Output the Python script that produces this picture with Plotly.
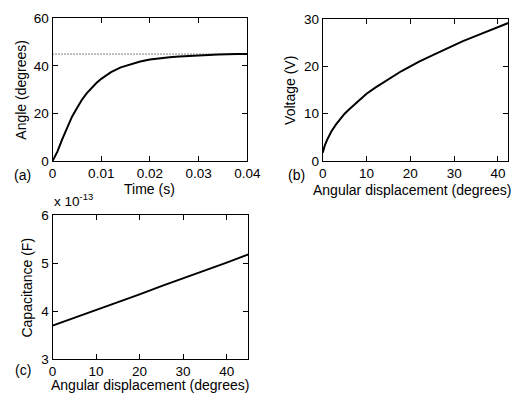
import plotly.graph_objects as go

# Panel (a): angle step response
time_s = [0, 0.001, 0.002, 0.003, 0.004, 0.005, 0.006, 0.007, 0.008, 0.009, 0.010,
          0.012, 0.014, 0.016, 0.018, 0.020, 0.022, 0.024, 0.026, 0.028, 0.030,
          0.032, 0.034, 0.036, 0.038, 0.040]
angle_deg = [0, 4, 9.3, 14, 18.7, 22.2, 25.7, 28.5, 30.8, 32.8, 34.6,
             37.4, 39.4, 40.8, 41.9, 42.7, 43.3, 43.7, 44.0, 44.3, 44.5,
             44.6, 44.8, 45, 45, 45]
target_angle = 45
time_range = [0, 0.04]
time_ticks = [0, 0.01, 0.02, 0.03, 0.04]
time_ticklabels = ["0", "0.01", "0.02", "0.03", "0.04"]

# Panel (b): voltage vs angular displacement
disp_b = [0, 0.25, 0.5, 1, 2, 3, 4, 5, 6, 8, 10, 12, 15, 18, 20, 22, 25, 28, 30,
          32, 35, 38, 40, 42, 45]
voltage = [1.8, 2.8, 3.4, 4.5, 6.3, 7.7, 8.9, 10.0, 10.9, 12.6, 14.2, 15.5, 17.3,
           19.0, 20.0, 21.0, 22.3, 23.6, 24.5, 25.3, 26.4, 27.5, 28.3, 29.0, 30.1]

# Panel (c): capacitance vs angular displacement (units of 1e-13 F)
disp_c = [0, 5, 10, 15, 20, 25, 30, 35, 40, 45]
capacitance = [3.70, 3.86, 4.02, 4.18, 4.35, 4.52, 4.68, 4.85, 5.01, 5.18]

disp_ticks = [0, 10, 20, 30, 40]

FONT = "Liberation Sans, Arial, sans-serif"
TICK_SIZE = 13.5
TITLE_SIZE = 14
TICKF = dict(family=FONT, size=TICK_SIZE, color="black")

# Figure sized to fit the 530x406 window inside the page's 8px body margin
W, H = 514, 390
OFF = 8


def px(x):
    return (x - OFF) / W


def py(y):
    return 1 - (y - OFF) / H


fig = go.Figure()
line = dict(color="black", width=2)
fig.add_trace(go.Scatter(x=time_s, y=angle_deg, mode="lines", line=line,
                         xaxis="x", yaxis="y", showlegend=False, hoverinfo="skip"))
fig.add_trace(go.Scatter(x=time_range, y=[target_angle, target_angle], mode="lines",
                         line=dict(color="black", width=1, dash="1px,2px"),
                         xaxis="x", yaxis="y", showlegend=False, hoverinfo="skip"))
fig.add_trace(go.Scatter(x=disp_b, y=voltage, mode="lines", line=line,
                         xaxis="x2", yaxis="y2", showlegend=False, hoverinfo="skip"))
fig.add_trace(go.Scatter(x=disp_c, y=capacitance, mode="lines", line=line,
                         xaxis="x3", yaxis="y3", showlegend=False, hoverinfo="skip"))

axbase = dict(showline=True, mirror="ticks", linecolor="black", linewidth=1,
              ticks="inside", ticklen=5, tickcolor="black", tickwidth=1,
              showgrid=False, zeroline=False, tickfont=TICKF)

fig.update_layout(
    width=W, height=H, margin=dict(l=0, r=0, t=0, b=0),
    paper_bgcolor="white", plot_bgcolor="white",
    font=dict(family=FONT, size=TICK_SIZE, color="black"),
    xaxis=dict(axbase, domain=[px(50), px(252)], range=time_range,
               tickvals=time_ticks, ticktext=time_ticklabels, anchor="y"),
    yaxis=dict(axbase, domain=[py(160), py(11.5)], range=[0, 60],
               tickvals=[0, 20, 40, 60], anchor="x"),
    xaxis2=dict(axbase, domain=[px(330), 1.0], range=[0, (522 - 330) / 4.54],
                tickvals=disp_ticks, anchor="y2"),
    yaxis2=dict(axbase, domain=[py(160), py(12)], range=[0, 30],
                tickvals=[0, 10, 20, 30], anchor="x2"),
    xaxis3=dict(axbase, domain=[px(50), px(253)], range=[0, 45],
                tickvals=disp_ticks, anchor="y3"),
    yaxis3=dict(axbase, domain=[py(366), py(216)], range=[3, 6],
                tickvals=[3, 4, 5, 6], anchor="x3"),
)


def ann(text, x, y, angle=0, size=TITLE_SIZE, xanchor="center", yanchor="middle"):
    fig.add_annotation(text=text, x=px(x), y=py(y), xref="paper", yref="paper",
                       showarrow=False, textangle=angle, xanchor=xanchor,
                       yanchor=yanchor, font=dict(family=FONT, size=size, color="black"))


ann("Time (s)", 151, 189)
ann("Angle (degrees)", 17, 86, angle=-90)
ann("(a)", 8, 174, xanchor="left")
ann("Angular displacement (degrees)", 422, 190)
ann("Voltage (V)", 296, 86, angle=-90)
ann("(b)", 303, 174)
ann("Angular displacement (degrees)", 151, 393)
ann("Capacitance (F)", 24, 291, angle=-90)
ann("(c)", 19, 377)
ann("x 10<sup>-13</sup>", 49, 212, size=TICK_SIZE, xanchor="left", yanchor="bottom")

fig.write_html("out.html", config={"displayModeBar": False})
